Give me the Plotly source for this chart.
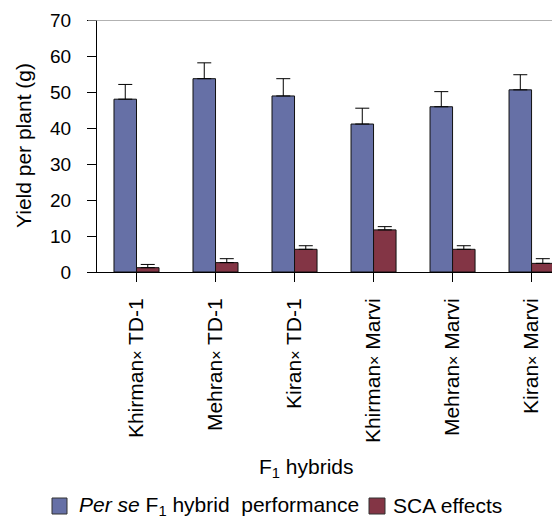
import plotly.graph_objects as go

categories = ["Khirman× TD-1", "Mehran× TD-1", "Kiran× TD-1", "Khirman× Marvi", "Mehran× Marvi", "Kiran× Marvi"]
per_se = [48.0, 53.7, 48.9, 41.1, 45.9, 50.6]
per_se_err = [4.1, 4.4, 4.8, 4.4, 4.2, 4.2]
sca = [1.2, 2.6, 6.3, 11.7, 6.3, 2.4]
sca_err = [0.9, 1.1, 1.0, 0.9, 1.0, 1.3]
y_ticks = [0, 10, 20, 30, 40, 50, 60, 70]

FONT = "Liberation Sans, Arial, sans-serif"
BLUE = "#6670A6"
RED = "#833545"

tick_text = [c.replace("×", "<span style='font-size:16px'>×</span>") for c in categories]

fig = go.Figure()
fig.add_trace(go.Bar(
    x=list(range(len(categories))), y=per_se, name="Per se",
    marker=dict(color=BLUE, line=dict(color="#111", width=1)),
    error_y=dict(type="data", array=per_se_err, arrayminus=[0]*6, symmetric=False,
                 color="#000", thickness=1, width=7),
))
fig.add_trace(go.Bar(
    x=list(range(len(categories))), y=sca, name="SCA",
    marker=dict(color=RED, line=dict(color="#111", width=1)),
    error_y=dict(type="data", array=sca_err, arrayminus=[0]*6, symmetric=False,
                 color="#000", thickness=1, width=7),
))

# page body has an 8px margin; figure is sized so the plot lands on screen px 97..560, 20..272
fig.update_layout(
    width=552, height=513,
    margin=dict(l=89, r=0, t=12, b=249),
    paper_bgcolor="white", plot_bgcolor="white",
    barmode="group", bargap=0.43, bargroupgap=0,
    showlegend=False,
    font=dict(family=FONT, size=21, color="#000"),
)
fig.update_xaxes(
    range=[-0.5, 5.36],
    tickmode="array", tickvals=list(range(6)), ticktext=tick_text,
    tickangle=-90, tickson="boundaries", ticks="outside", ticklen=9,
    tickcolor="#000", showline=True, linecolor="#000", linewidth=1,
    showgrid=False, tickfont=dict(size=21, family=FONT), ticklabelstandoff=8,
)
fig.update_yaxes(
    range=[0, 70], tickvals=y_ticks, ticks="outside", ticklen=9,
    tickcolor="#000", showline=True, linecolor="#000", linewidth=1,
    showgrid=False, zeroline=False, tickfont=dict(size=19, family=FONT),
    ticklabelstandoff=12,
)

def px_x(p):
    return (p - 97) / 463
def px_y(p):
    return (272 - p) / 252

# top reference line at 70
fig.add_shape(type="line", xref="paper", yref="y", x0=px_x(88), x1=1, y0=70, y1=70,
              line=dict(color="#999", width=1.5))

fig.add_annotation(text="Yield per plant (g)", xref="paper", yref="paper",
                   x=px_x(23), y=px_y(146), textangle=-90, showarrow=False,
                   xanchor="center", yanchor="middle", font=dict(size=21, family=FONT))

fig.add_annotation(text="F<sub>1</sub> hybrids", xref="paper", yref="paper",
                   x=px_x(306), y=px_y(468), showarrow=False,
                   font=dict(size=21, family=FONT), xanchor="center", yanchor="middle")

# legend
fig.add_shape(type="rect", xref="paper", yref="paper",
              x0=px_x(52), x1=px_x(67), y0=px_y(514), y1=px_y(498),
              fillcolor=BLUE, line=dict(color="#333", width=1))
fig.add_annotation(text="<i>Per se</i> F<sub>1</sub> hybrid  performance", xref="paper", yref="paper",
                   x=px_x(77), y=px_y(506), showarrow=False, xanchor="left", yanchor="middle",
                   font=dict(size=21, family=FONT))
fig.add_shape(type="rect", xref="paper", yref="paper",
              x0=px_x(369), x1=px_x(385), y0=px_y(514), y1=px_y(498),
              fillcolor=RED, line=dict(color="#333", width=1))
fig.add_annotation(text="SCA effects", xref="paper", yref="paper",
                   x=px_x(391), y=px_y(505), showarrow=False, xanchor="left", yanchor="middle",
                   font=dict(size=21, family=FONT))

fig.write_html("out.html")
